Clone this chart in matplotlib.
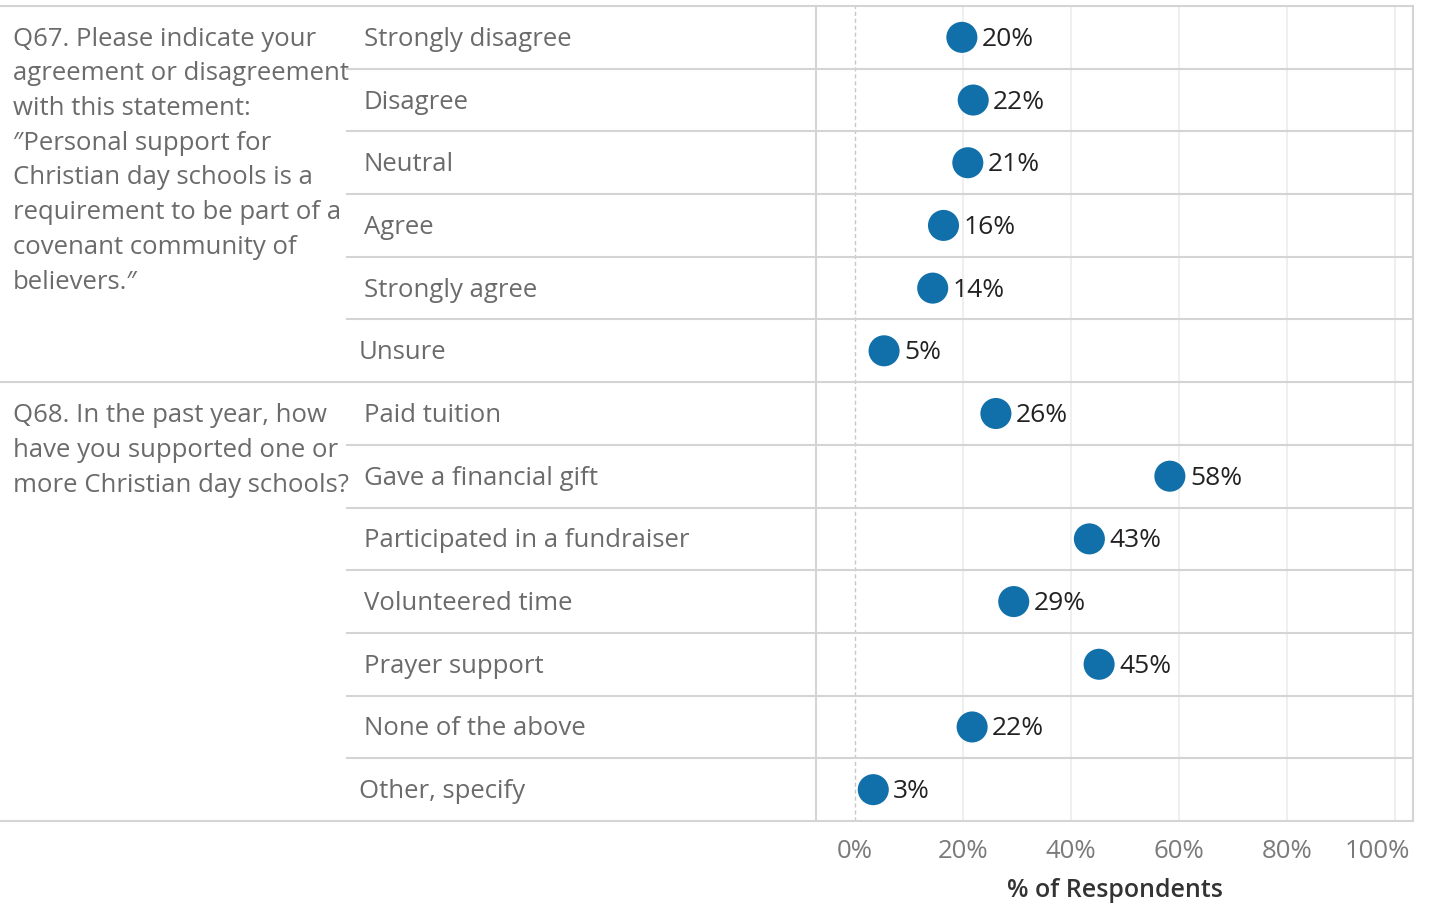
import matplotlib.pyplot as plt
import matplotlib.transforms as mtransforms

plt.rcParams['font.family'] = ['Open Sans', 'DejaVu Sans']

# question groups: (question text, answers, values in %)
q67_text = ("Q67. Please indicate your\nagreement or disagreement\nwith this statement:\n"
            "\u2033Personal support for\nChristian day schools is a\nrequirement to be part of a\n"
            "covenant community of\nbelievers.\u2033")
q67_answers = ["Strongly disagree", "Disagree", "Neutral", "Agree", "Strongly agree", "Unsure"]
q67_values = [19.8, 21.9, 20.9, 16.4, 14.4, 5.4]

q68_text = "Q68. In the past year, how\nhave you supported one or\nmore Christian day schools?"
q68_answers = ["Paid tuition", "Gave a financial gift", "Participated in a fundraiser",
               "Volunteered time", "Prayer support", "None of the above", "Other, specify"]
q68_values = [26.1, 58.3, 43.4, 29.4, 45.2, 21.7, 3.4]

xticks = [0, 20, 40, 60, 80, 100]

answers = q67_answers + q68_answers
values = q67_values + q68_values
n = len(answers)

W, H = 1429, 905
fig = plt.figure(figsize=(W / 100, H / 100), dpi=100)
ax = fig.add_axes([816 / W, 1 - 821 / H, (1413 - 816) / W, (821 - 6) / H])

ax.set_xlim(-7.2, 103.3)
ax.set_ylim(n - 0.5, -0.5)

blue = "#1170aa"
line_c = "#d4d4d4"
grey_txt = "#6b6b6b"
fs = 18.5

# gridlines
for t in xticks[1:]:
    ax.axvline(t, color="#ececec", lw=1.2, zorder=0)
ax.axvline(0, color="#c8c8c8", lw=1, ls=(0, (3, 2)), zorder=0)

ax.scatter(values, range(n), s=500, color=blue, zorder=3, edgecolors="none")

offset = mtransforms.offset_copy(ax.transData, fig=fig, x=20, y=-2, units="dots")
for i, v in enumerate(values):
    ax.text(v, i, f"{round(v)}%", transform=offset, va="center", ha="left",
            fontsize=19, color="#222222")

ytr = ax.get_yaxis_transform()
xtr = ax.get_xaxis_transform()
x_ans = (347 - 816) / 597
x_all = (0 - 816) / 597

# row separators
n67 = len(q67_answers)
for k in range(n + 1):
    y = k - 0.5
    if k in (0, n67, n):
        x0 = x_all
    else:
        x0 = x_ans
    ax.plot([x0, 1], [y, y], transform=ytr, color=line_c, lw=1.5, clip_on=False, zorder=1)

# answer labels
lab_tr = mtransforms.offset_copy(ytr, fig=fig, x=0, y=-2, units="dots")
for i, a in enumerate(answers):
    dx = -5 if a in ("Unsure", "Other, specify") else 0
    ax.text((364 + dx - 816) / 597, i, a, transform=lab_tr, va="center", ha="left",
            fontsize=fs, color=grey_txt)

# question texts
x_q = (13 - 816) / 597
ax.text(x_q, -0.5 + 0.33, q67_text, transform=ytr, va="top", ha="left",
        fontsize=fs, color=grey_txt, linespacing=1.51)
ax.text(x_q, n67 - 0.5 + 0.34, q68_text, transform=ytr, va="top", ha="left",
        fontsize=fs, color=grey_txt, linespacing=1.51)

for s in ["top", "bottom"]:
    ax.spines[s].set_visible(False)
for s in ["left", "right"]:
    ax.spines[s].set_color(line_c)
    ax.spines[s].set_linewidth(1.5)

ax.set_yticks([])
ax.set_xticks([])
# tick labels (last one nudged left like the original)
for t in xticks:
    dx = -18 if t == 100 else 0
    tr = mtransforms.offset_copy(xtr, fig=fig, x=dx, y=0, units="dots")
    ax.text(t, -30 / 815, f"{t}%", transform=tr, ha="center", va="center",
            fontsize=fs, color="#7a7a7a")
ax.text(0.5, -69 / 815, "% of Respondents", transform=ax.transAxes, ha="center", va="center",
        fontsize=18, color="#333333", fontweight="semibold")

fig.savefig("out.png", dpi=100)
